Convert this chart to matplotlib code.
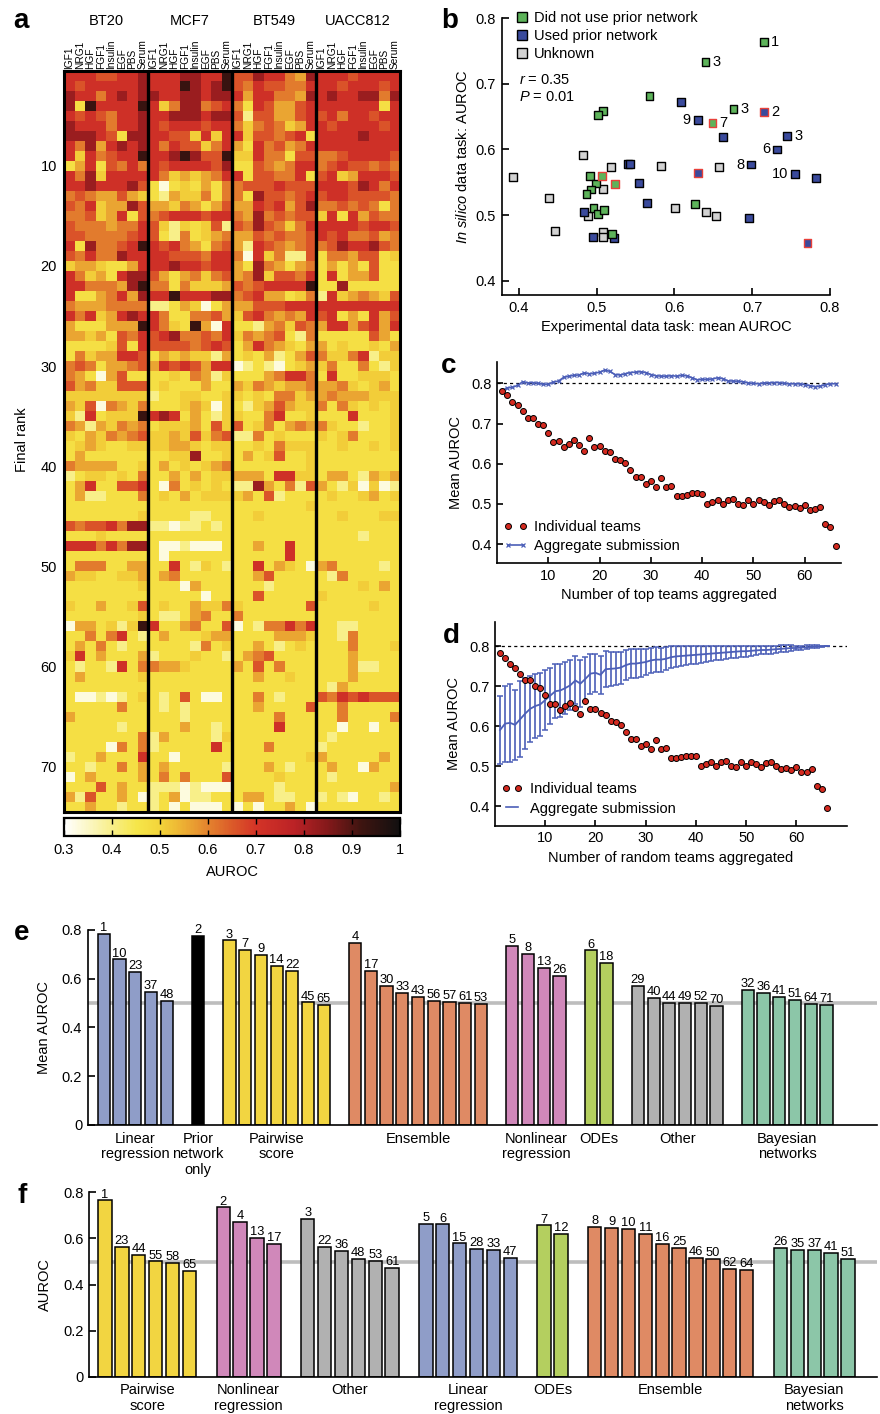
import numpy as np
import matplotlib
matplotlib.use('Agg')
import matplotlib.pyplot as plt
from matplotlib.colors import LinearSegmentedColormap
from matplotlib.lines import Line2D

plt.rcParams['font.family'] = ['Liberation Sans', 'DejaVu Sans']
plt.rcParams['mathtext.fontset'] = 'custom'
plt.rcParams['mathtext.it'] = 'Liberation Sans:italic'
plt.rcParams['mathtext.rm'] = 'Liberation Sans'
plt.rcParams['axes.linewidth'] = 1.2
plt.rcParams['xtick.direction'] = 'in'
plt.rcParams['ytick.direction'] = 'in'

# ---------------- data ----------------
cell_lines = ['BT20', 'MCF7', 'BT549', 'UACC812']
stimuli = ['IGF1', 'NRG1', 'HGF', 'FGF1', 'Insulin', 'EGF', 'PBS', 'Serum']
# heatmap cells read as levels 0..9 (white .. black), one string per final rank
level_auroc = [0.33, 0.40, 0.47, 0.51, 0.56, 0.61, 0.66, 0.72, 0.82, 0.93]

bt20_rows = [
    "77766778", "76777778", "87757878", "82977779", "76765778", "87775778", "88876288", "75847878",
    "73756779", "24726575", "75837777", "77877786", "56544643", "65734486", "55634726", "65554557",
    "66555567", "72855679", "65755877", "34432247", "75342788", "77555489", "72245748", "54445555",
    "75734787", "42224449", "44342657", "22223627", "25344776", "56524456", "54204622", "64533666",
    "33333333", "43605435", "31723339", "54143545", "32435456", "23432233", "24222222", "54444223",
    "12332325", "24722667", "24112225", "22222222", "22222223", "65667588", "22232222", "77757588",
    "22222222", "25552244", "43322334", "22222223", "22222222", "32242236", "22222223", "04423139",
    "22525721", "24252122", "37242224", "21221725", "24222223", "22222222", "20010123", "22222522",
    "42222222", "22222122", "22222225", "22220525", "12242227", "22122524", "02422224", "22262422",
    "41622420", "22422122"]
mcf7_rows = [
    "77788779", "77798789", "87788788", "73588567", "77888788", "76777677", "77663737", "75766357",
    "77898669", "76777768", "75343457", "20232425", "21433525", "44354246", "56777677", "63132361",
    "62152345", "76754256", "77666577", "77877677", "64245356", "55253334", "77977788", "11243024",
    "75225564", "75329407", "67855657", "66665676", "24343314", "47676477", "22325413", "23222422",
    "12233223", "22234303", "78724213", "23334263", "33436356", "33443233", "22338223", "24232345",
    "22424233", "20523232", "23242333", "22222222", "22221122", "11011212", "22222222", "20010002",
    "20222222", "22721321", "24522222", "22204222", "22222022", "23224335", "21124522", "72245226",
    "24222344", "22221523", "12223221", "54432222", "22222222", "22222222", "21262002", "21212222",
    "22212222", "22242212", "14222213", "12222272", "22022222", "24222221", "25252226", "11101000",
    "12401122", "12020002"]
bt549_rows = [
    "66877548", "65766557", "74775548", "52764467", "61664467", "53565347", "73665672", "42756457",
    "33755266", "22654577", "72665572", "56667666", "52866567", "44767468", "54856566", "65865357",
    "44656556", "41765456", "50735116", "42854245", "45836657", "65677779", "56744235", "44666777",
    "36754547", "22145365", "35456215", "24754324", "23241246", "01210234", "22245775", "43543445",
    "32325534", "21346433", "32257223", "62352454", "11523222", "22325333", "24236223", "22222223",
    "44427733", "11842516", "34261222", "22222223", "22322222", "22222222", "22222222", "22422722",
    "22222722", "22724320", "22462222", "22212222", "22622222", "32222226", "52222222", "02155757",
    "22224443", "22421232", "24562222", "42625222", "22422322", "22222222", "22521222", "22422226",
    "22225222", "22227222", "22222222", "22252222", "22222223", "22242122", "22223222", "22221222",
    "24421122", "02022420"]
uacc812_rows = [
    "77767777", "77677767", "78778858", "77777727", "67577677", "76777767", "77778777", "77777777",
    "55677776", "56766565", "67347776", "77768757", "67766665", "55656525", "37274655", "77776776",
    "76755645", "56877865", "25546623", "24242622", "27244622", "22822222", "17345436", "77777777",
    "67242746", "47746747", "22222642", "42322324", "53357133", "35225213", "27223332", "44532342",
    "45444333", "52532323", "22272223", "53221223", "32352223", "22322323", "22222222", "22222222",
    "24421434", "42130301", "23223423", "22222222", "22322233", "22222222", "22221222", "22222222",
    "22222222", "45222212", "21522222", "22223242", "32222222", "22222322", "22222222", "22112222",
    "22152222", "22252223", "22242222", "22241122", "22242222", "21422222", "65767666", "22522222",
    "22522225", "22022022", "21222222", "12222222", "42222242", "24220422", "21222222", "22222224",
    "12102212", "22222222"]

# panel b
green_x = [0.715, 0.640, 0.568, 0.676, 0.508, 0.502, 0.649, 0.491, 0.499, 0.493, 0.487, 0.507, 0.524,
           0.496, 0.502, 0.510, 0.520, 0.626]
green_y = [0.764, 0.734, 0.682, 0.662, 0.658, 0.652, 0.640, 0.559, 0.548, 0.539, 0.532, 0.560, 0.547,
           0.511, 0.501, 0.508, 0.471, 0.517]
green_flag = [0, 0, 0, 0, 0, 0, 1, 0, 0, 0, 0, 1, 1, 0, 0, 0, 0, 0]
green_lab = {0: '1', 1: '3', 3: '3', 6: '7'}
blue_x = [0.608, 0.630, 0.715, 0.662, 0.745, 0.732, 0.699, 0.755, 0.782, 0.630, 0.540, 0.543, 0.554,
          0.565, 0.484, 0.495, 0.522, 0.696, 0.771]
blue_y = [0.673, 0.645, 0.657, 0.619, 0.620, 0.600, 0.577, 0.563, 0.556, 0.564, 0.578, 0.578, 0.549,
          0.518, 0.504, 0.467, 0.465, 0.495, 0.457]
blue_flag = [0, 0, 1, 0, 0, 0, 0, 0, 0, 1, 0, 0, 0, 0, 0, 0, 0, 0, 1]
blue_lab = {1: '9', 2: '2', 4: '3', 5: '6', 6: '8', 7: '10'}
left_side = ['9', '6', '8', '10']
gray_x = [0.393, 0.483, 0.519, 0.583, 0.657, 0.439, 0.508, 0.489, 0.601, 0.641, 0.653, 0.446, 0.508, 0.508]
gray_y = [0.558, 0.591, 0.573, 0.575, 0.573, 0.526, 0.539, 0.498, 0.511, 0.504, 0.498, 0.475, 0.474, 0.466]

# panels c, d
teams = np.arange(1, 67)
indiv = [0.782, 0.771, 0.754, 0.745, 0.731, 0.714, 0.714, 0.699, 0.696, 0.677, 0.654, 0.656, 0.641,
         0.650, 0.658, 0.646, 0.631, 0.663, 0.642, 0.643, 0.632, 0.628, 0.612, 0.610, 0.603, 0.585,
         0.568, 0.567, 0.550, 0.556, 0.542, 0.565, 0.542, 0.544, 0.520, 0.519, 0.522, 0.526, 0.526,
         0.524, 0.500, 0.504, 0.510, 0.499, 0.510, 0.512, 0.499, 0.497, 0.510, 0.499, 0.509, 0.504,
         0.497, 0.507, 0.510, 0.500, 0.492, 0.495, 0.490, 0.498, 0.485, 0.486, 0.493, 0.450, 0.442, 0.395]
agg_top = [0.782, 0.789, 0.790, 0.795, 0.804, 0.801, 0.802, 0.800, 0.798, 0.798, 0.803, 0.806, 0.815,
           0.818, 0.820, 0.821, 0.826, 0.824, 0.825, 0.828, 0.833, 0.830, 0.822, 0.821, 0.824, 0.827,
           0.828, 0.829, 0.827, 0.822, 0.819, 0.818, 0.818, 0.819, 0.818, 0.820, 0.819, 0.814, 0.809,
           0.810, 0.810, 0.811, 0.814, 0.812, 0.806, 0.806, 0.805, 0.804, 0.801, 0.800, 0.799, 0.801,
           0.801, 0.802, 0.802, 0.800, 0.799, 0.799, 0.799, 0.797, 0.794, 0.792, 0.793, 0.797, 0.799, 0.799]
agg_rand = [0.590, 0.606, 0.608, 0.603, 0.617, 0.631, 0.643, 0.650, 0.654, 0.665, 0.676, 0.687, 0.689,
            0.695, 0.702, 0.714, 0.706, 0.718, 0.731, 0.733, 0.728, 0.742, 0.743, 0.744, 0.746, 0.752,
            0.756, 0.756, 0.758, 0.760, 0.764, 0.766, 0.766, 0.768, 0.772, 0.774, 0.775, 0.776, 0.777,
            0.778, 0.779, 0.780, 0.781, 0.782, 0.783, 0.784, 0.785, 0.786, 0.787, 0.787, 0.788, 0.789,
            0.790, 0.790, 0.791, 0.792, 0.793, 0.794, 0.795, 0.795, 0.796, 0.797, 0.798, 0.799, 0.799, 0.800]
agg_rand_err = [0.085, 0.095, 0.098, 0.088, 0.095, 0.088, 0.082, 0.080, 0.078, 0.075, 0.070, 0.068, 0.067,
                0.064, 0.062, 0.060, 0.058, 0.055, 0.050, 0.048, 0.047, 0.045, 0.043, 0.042, 0.040, 0.038,
                0.037, 0.036, 0.035, 0.033, 0.032, 0.031, 0.030, 0.029, 0.027, 0.026, 0.025, 0.024, 0.023,
                0.022, 0.021, 0.020, 0.019, 0.018, 0.017, 0.017, 0.016, 0.015, 0.014, 0.014, 0.013, 0.012,
                0.011, 0.011, 0.010, 0.009, 0.009, 0.008, 0.007, 0.006, 0.005, 0.005, 0.004, 0.003, 0.002, 0.0]

# panel e
e_groups = ['Linear\nregression', 'Prior\nnetwork\nonly', 'Pairwise\nscore', 'Ensemble',
            'Nonlinear\nregression', 'ODEs', 'Other', 'Bayesian\nnetworks']
e_ranks = [[1, 10, 23, 37, 48], [2], [3, 7, 9, 14, 22, 45, 65], [4, 17, 30, 33, 43, 56, 57, 61, 53],
           [5, 8, 13, 26], [6, 18], [29, 40, 44, 49, 52, 70], [32, 36, 41, 51, 64, 71]]
e_vals = [[0.782, 0.678, 0.628, 0.545, 0.509], [0.773],
          [0.756, 0.717, 0.698, 0.650, 0.631, 0.502, 0.490],
          [0.747, 0.631, 0.568, 0.542, 0.523, 0.509, 0.504, 0.500, 0.497],
          [0.732, 0.699, 0.642, 0.609], [0.715, 0.662],
          [0.569, 0.522, 0.501, 0.498, 0.498, 0.487],
          [0.554, 0.541, 0.526, 0.511, 0.494, 0.493]]
# panel f
f_groups = ['Pairwise\nscore', 'Nonlinear\nregression', 'Other', 'Linear\nregression', 'ODEs',
            'Ensemble', 'Bayesian\nnetworks']
f_ranks = [[1, 23, 44, 55, 58, 65], [2, 4, 13, 17], [3, 22, 36, 48, 53, 61], [5, 6, 15, 28, 33, 47],
           [7, 12], [8, 9, 10, 11, 16, 25, 46, 50, 62, 64], [26, 35, 37, 41, 51]]
f_vals = [[0.765, 0.563, 0.530, 0.501, 0.495, 0.458], [0.735, 0.673, 0.601, 0.578],
          [0.684, 0.565, 0.547, 0.513, 0.504, 0.472], [0.664, 0.661, 0.579, 0.556, 0.552, 0.517],
          [0.657, 0.619], [0.651, 0.645, 0.640, 0.621, 0.578, 0.560, 0.517, 0.510, 0.468, 0.464],
          [0.559, 0.550, 0.549, 0.539, 0.510]]

method_colors = {'Linear\nregression': '#8F9DC8', 'Prior\nnetwork\nonly': '#000000',
                 'Pairwise\nscore': '#F2D541', 'Ensemble': '#DF8A64', 'Nonlinear\nregression': '#D088BA',
                 'ODEs': '#B4CF5F', 'Other': '#B1B1B1', 'Bayesian\nnetworks': '#8CC6A8'}

# ---------------- figure ----------------
W, H = 880, 1414
fig = plt.figure(figsize=(W / 100, H / 100), dpi=100)


def box(l, t, r, b):
    return [l / W, 1 - b / H, (r - l) / W, (b - t) / H]


def letter(x, y, s):
    fig.text(x / W, 1 - y / H, s, fontsize=20, fontweight='bold', ha='center', va='baseline')


# ---- a: heatmap ----
cmap = LinearSegmentedColormap.from_list('auroc', [
    (0.0, '#FFFFFF'), (0.08 / 0.7, '#F9F2A0'), (0.15 / 0.7, '#F6E64A'), (0.20 / 0.7, '#F3D43A'),
    (0.25 / 0.7, '#ECAE33'), (0.30 / 0.7, '#E4832E'), (0.35 / 0.7, '#DB5A29'), (0.40 / 0.7, '#D43427'),
    (0.48 / 0.7, '#BB2226'), (0.55 / 0.7, '#84191A'), (0.62 / 0.7, '#3E1410'), (1.0, '#121010')])

rows = [a + b + c + d for a, b, c, d in zip(bt20_rows, mcf7_rows, bt549_rows, uacc812_rows)]
heat = np.array([[level_auroc[int(ch)] for ch in r] for r in rows])
nrank = heat.shape[0]

ax_a = fig.add_axes(box(64, 70.7, 400, 811.7))
mesh = ax_a.pcolormesh(np.arange(33), np.arange(nrank + 1) + 0.5, heat, cmap=cmap, vmin=0.3, vmax=1.0)
ax_a.set_xlim(0, 32)
ax_a.set_ylim(nrank + 0.5, 0.5)
for xv in [8, 16, 24]:
    ax_a.axvline(xv, color='k', lw=2.4)
for sp in ax_a.spines.values():
    sp.set_linewidth(2.2)
ax_a.set_yticks([10, 20, 30, 40, 50, 60, 70])
ax_a.tick_params(axis='y', length=0, pad=5, labelsize=10.5)
ax_a.xaxis.tick_top()
ax_a.set_xticks(np.arange(32) + 0.5)
ax_a.set_xticklabels(stimuli * 4, rotation=90, fontsize=7.3)
ax_a.tick_params(axis='x', length=0, pad=1)
for i, name in enumerate(cell_lines):
    ax_a.text(4 + 8 * i, 1 + 50 / 741, name, transform=ax_a.get_xaxis_transform(),
              ha='center', va='center', fontsize=10.5)
fig.text(22 / W, 1 - 440 / H, 'Final rank', rotation=90, ha='center', va='center', fontsize=10.5)
letter(21, 28, 'a')

cax = fig.add_axes(box(64, 818, 400, 836))
cb = fig.colorbar(mesh, cax=cax, orientation='horizontal', ticks=np.arange(0.3, 1.01, 0.1))
cb.set_ticklabels(['0.3', '0.4', '0.5', '0.6', '0.7', '0.8', '0.9', '1'])
cax.tick_params(direction='in', length=4, width=1, top=True, labelsize=10.5, pad=5)
cb.outline.set_linewidth(1.6)
cb.set_label('AUROC', fontsize=10.5, labelpad=6)

# ---- b: scatter ----
ax_b = fig.add_axes(box(501.7, 18.3, 830, 295))
red_edge = '#E8403A'
ax_b.scatter(gray_x, gray_y, marker='s', s=32, c='#D2D2D2', edgecolors='k', linewidths=1, zorder=3)
ax_b.scatter(blue_x, blue_y, marker='s', s=32, c='#3A4A9C',
             edgecolors=[red_edge if f else 'k' for f in blue_flag], linewidths=1, zorder=3)
ax_b.scatter(green_x, green_y, marker='s', s=32, c='#5DB35A',
             edgecolors=[red_edge if f else 'k' for f in green_flag], linewidths=1, zorder=3)
for xs, ys, labs in [(green_x, green_y, green_lab), (blue_x, blue_y, blue_lab)]:
    for i, t in labs.items():
        if t in left_side:
            ax_b.annotate(t, (xs[i], ys[i]), xytext=(-5, 0), textcoords='offset points',
                          ha='right', va='center', fontsize=10.5)
        else:
            ax_b.annotate(t, (xs[i], ys[i]), xytext=(5, 0), textcoords='offset points',
                          ha='left', va='center', fontsize=10.5)
ax_b.set_xlim(0.378, 0.8)
ax_b.set_ylim(0.378, 0.8)
ax_b.set_xticks([0.4, 0.5, 0.6, 0.7, 0.8])
ax_b.set_yticks([0.4, 0.5, 0.6, 0.7, 0.8])
ax_b.tick_params(labelsize=10.5, length=5, width=1.2, pad=4)
ax_b.spines['top'].set_visible(False)
ax_b.spines['right'].set_visible(False)
ax_b.set_xlabel('Experimental data task: mean AUROC', fontsize=10.5, labelpad=4)
ax_b.set_ylabel(r'$\mathit{In\ silico}$ data task: AUROC', fontsize=10.5, labelpad=4)
ax_b.text(0.400, 0.706, r'$\mathit{r}$ = 0.35', fontsize=10.5, va='center')
ax_b.text(0.400, 0.680, r'$\mathit{P}$ = 0.01', fontsize=10.5, va='center')
handles = [Line2D([], [], ls='none', marker='s', ms=7, mfc=c, mec='k', mew=1)
           for c in ['#5DB35A', '#3A4A9C', '#D2D2D2']]
ax_b.legend(handles, ['Did not use prior network', 'Used prior network', 'Unknown'],
            loc='upper left', bbox_to_anchor=(0.045, 1.025), frameon=False, fontsize=10.5,
            handlelength=0.8, handletextpad=0.4, labelspacing=0.25, borderaxespad=0, borderpad=0)
letter(450, 28, 'b')

# ---- c: top teams aggregated ----
blue = '#4C5FB8'
ax_c = fig.add_axes(box(497, 361.7, 840.7, 563.3))
ax_c.axhline(0.8, color='k', lw=0.9, ls=(0, (2.5, 2.5)), zorder=1)
ax_c.plot(teams, agg_top, '-x', color=blue, lw=1.2, ms=3.2, mew=0.9, zorder=2)
ax_c.plot(teams, indiv, 'o', mfc='#D42A20', mec='k', ms=4.3, mew=0.7, ls='none', zorder=3)
ax_c.set_xlim(0, 67)
ax_c.set_ylim(0.352, 0.854)
ax_c.set_xticks([10, 20, 30, 40, 50, 60])
ax_c.set_yticks([0.4, 0.5, 0.6, 0.7, 0.8])
ax_c.tick_params(labelsize=10.5, length=4, width=1.2, pad=4)
ax_c.spines['top'].set_visible(False)
ax_c.spines['right'].set_visible(False)
ax_c.set_xlabel('Number of top teams aggregated', fontsize=10.5, labelpad=4)
ax_c.set_ylabel('Mean AUROC', fontsize=10.5, labelpad=6)
h1 = Line2D([], [], ls='none', marker='o', mfc='#D42A20', mec='k', ms=4.3, mew=0.7)
h2 = Line2D([], [], ls='-', marker='x', color=blue, ms=3.2, mew=0.9, lw=1.2)
ax_c.legend([h1, h2], ['Individual teams', 'Aggregate submission'], loc='lower left',
            bbox_to_anchor=(0.02, 0.05), frameon=False, fontsize=10.5, numpoints=2,
            handlelength=1.6, handletextpad=0.5, labelspacing=0.35, borderaxespad=0, borderpad=0)
letter(449, 373, 'c')

# ---- d: random teams aggregated ----
ax_d = fig.add_axes(box(495, 622, 846.7, 825.7))
ax_d.axhline(0.8, color='k', lw=0.9, ls=(0, (2.5, 2.5)), zorder=1)
ax_d.errorbar(teams, agg_rand, yerr=agg_rand_err, color=blue, lw=1.3, elinewidth=1.2,
              capsize=2, capthick=1.1, zorder=2)
ax_d.plot(teams, indiv, 'o', mfc='#D42A20', mec='k', ms=4.3, mew=0.7, ls='none', zorder=3)
ax_d.set_xlim(0, 70)
ax_d.set_ylim(0.351, 0.86)
ax_d.set_xticks([10, 20, 30, 40, 50, 60])
ax_d.set_yticks([0.4, 0.5, 0.6, 0.7, 0.8])
ax_d.tick_params(labelsize=10.5, length=4, width=1.2, pad=4)
ax_d.spines['top'].set_visible(False)
ax_d.spines['right'].set_visible(False)
ax_d.set_xlabel('Number of random teams aggregated', fontsize=10.5, labelpad=4)
ax_d.set_ylabel('Mean AUROC', fontsize=10.5, labelpad=6)
h3 = Line2D([], [], ls='-', color=blue, lw=1.2)
ax_d.legend([h1, h3], ['Individual teams', 'Aggregate submission'], loc='lower left',
            bbox_to_anchor=(0.02, 0.05), frameon=False, fontsize=10.5, numpoints=2,
            handlelength=1.4, handletextpad=0.5, labelspacing=0.35, borderaxespad=0, borderpad=0)
letter(451, 643, 'd')


# ---- e, f: bars by method ----
def method_bars(ax, groups, ranks, vals, width):
    pos = 0
    for g, rk, vs in zip(groups, ranks, vals):
        xs = np.arange(pos, pos + len(vs))
        ax.bar(xs, vs, width=width, color=method_colors[g], edgecolor='k', linewidth=1.1, zorder=2)
        for x, r, v in zip(xs, rk, vs):
            ax.text(x, v + 0.012, str(r), ha='center', va='baseline', fontsize=9.3, clip_on=False)
        ax.text(xs.mean(), -0.035, g, transform=ax.get_xaxis_transform(), ha='center', va='top',
                fontsize=10.5, linespacing=1.15)
        pos += len(vs) + 1
    ax.axhline(0.5, color='#BDBDBD', lw=2.6, zorder=1)
    ax.set_ylim(0, 0.8)
    ax.set_yticks([0, 0.2, 0.4, 0.6, 0.8])
    ax.set_yticklabels(['0', '0.2', '0.4', '0.6', '0.8'])
    ax.set_xticks([])
    ax.tick_params(labelsize=10.5, length=5, width=1.2, pad=4)
    ax.spines['top'].set_visible(False)
    ax.spines['right'].set_visible(False)


ax_e = fig.add_axes(box(87.7, 929.7, 876.7, 1125))
method_bars(ax_e, e_groups, e_ranks, e_vals, 0.78)
ax_e.set_xlim(-1.03, 49.2)
ax_e.set_ylabel('Mean AUROC', fontsize=10.5, labelpad=8)
letter(22, 940, 'e')

ax_f = fig.add_axes(box(89.3, 1192.3, 876.7, 1377))
method_bars(ax_f, f_groups, f_ranks, f_vals, 0.79)
ax_f.set_xlim(-0.93, 45.7)
ax_f.set_ylabel('AUROC', fontsize=10.5, labelpad=8)
letter(22, 1203, 'f')

fig.savefig('out.png', dpi=100)
